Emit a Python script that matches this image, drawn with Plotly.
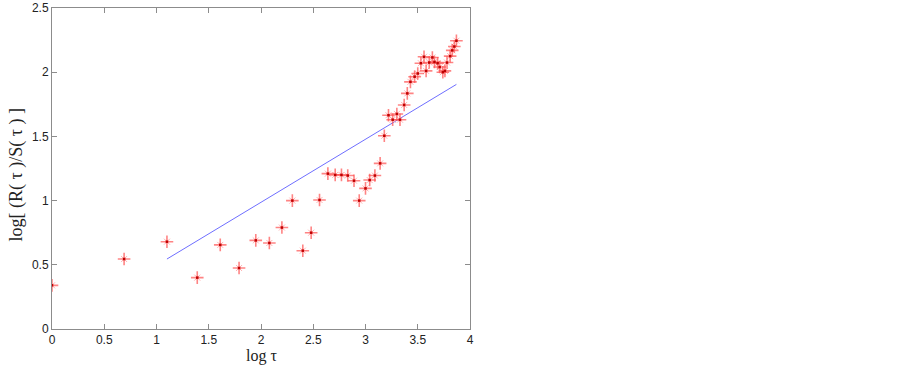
import plotly.graph_objects as go

log_tau = [0.0, 0.69, 1.10, 1.39, 1.61, 1.79, 1.95, 2.08, 2.20, 2.30,
           2.40, 2.48, 2.56, 2.64, 2.71, 2.77, 2.83, 2.89, 2.94, 3.00,
           3.04, 3.09, 3.14, 3.18, 3.22, 3.26, 3.30, 3.33, 3.37, 3.40,
           3.43, 3.47, 3.50, 3.53, 3.56, 3.58, 3.61, 3.64, 3.66, 3.69,
           3.71, 3.74, 3.76, 3.78, 3.81, 3.83, 3.85, 3.87]
log_rs = [0.34, 0.545, 0.68, 0.40, 0.655, 0.475, 0.69, 0.67, 0.79, 1.00,
          0.61, 0.75, 1.005, 1.21, 1.20, 1.20, 1.195, 1.155, 1.00, 1.095,
          1.16, 1.195, 1.29, 1.505, 1.665, 1.63, 1.675, 1.63, 1.745, 1.835,
          1.925, 1.965, 1.99, 2.07, 2.12, 2.01, 2.075, 2.115, 2.08, 2.07,
          2.04, 2.00, 2.01, 2.075, 2.125, 2.17, 2.20, 2.245]

fit_x = [1.10, 3.87]
fit_y = [0.545, 1.905]

x_ticks = [0, 0.5, 1, 1.5, 2, 2.5, 3, 3.5, 4]
x_tick_labels = ["0", "0.5", "1", "1.5", "2", "2.5", "3", "3.5", "4"]
y_ticks = [0, 0.5, 1, 1.5, 2, 2.5]
y_tick_labels = ["0", "0.5", "1", "1.5", "2", "2.5"]

fig = go.Figure()
fig.add_trace(go.Scatter(
    x=fit_x, y=fit_y, mode="lines",
    line=dict(color="rgb(110,110,255)", width=1),
    showlegend=False, hoverinfo="skip"))
fig.add_trace(go.Scatter(
    x=log_tau, y=log_rs, mode="markers",
    marker=dict(symbol="x-thin-open", size=6, color="rgba(255,160,160,0.8)",
                line=dict(color="rgba(255,160,160,0.8)", width=1)),
    showlegend=False, hoverinfo="skip"))
fig.add_trace(go.Scatter(
    x=log_tau, y=log_rs, mode="markers",
    marker=dict(symbol="cross-thin-open", size=9, color="rgba(255,80,80,0.7)",
                line=dict(color="rgba(255,80,80,0.7)", width=1.6)),
    showlegend=False))
fig.add_trace(go.Scatter(
    x=log_tau, y=log_rs, mode="markers",
    marker=dict(symbol="square", size=2.5, color="rgb(190,0,0)"),
    showlegend=False, hoverinfo="skip"))

axis_common = dict(
    showgrid=False, zeroline=False, showline=True, mirror="ticks",
    linecolor="rgb(140,140,140)", linewidth=1, automargin=False,
    ticks="inside", ticklen=5, tickcolor="rgb(140,140,140)",
    tickfont=dict(family="Liberation Sans, Arial", size=12, color="#222"),
)

fig.update_layout(
    width=903, height=369,
    margin=dict(l=52, r=433, t=8, b=40),
    paper_bgcolor="white", plot_bgcolor="white",
    xaxis=dict(range=[0, 4], tickvals=x_ticks, ticktext=x_tick_labels, **axis_common),
    yaxis=dict(range=[0, 2.5], tickvals=y_ticks, ticktext=y_tick_labels, **axis_common),
    annotations=[
        dict(text="log τ", xref="paper", yref="paper", x=0.5, y=-0.083,
             xanchor="center", yanchor="middle", showarrow=False,
             font=dict(family="Liberation Serif, Times New Roman", size=16, color="#222")),
        dict(text="log[ (R( τ )/S( τ ) ]", xref="paper", yref="paper", x=-0.085, y=0.48,
             xanchor="center", yanchor="middle", showarrow=False, textangle=-90,
             font=dict(family="Liberation Serif, Times New Roman", size=18, color="#222")),
    ],
)

fig.write_html("out.html", config={"displayModeBar": False},
               post_script="document.body.style.margin='0';document.body.style.padding='0';")
